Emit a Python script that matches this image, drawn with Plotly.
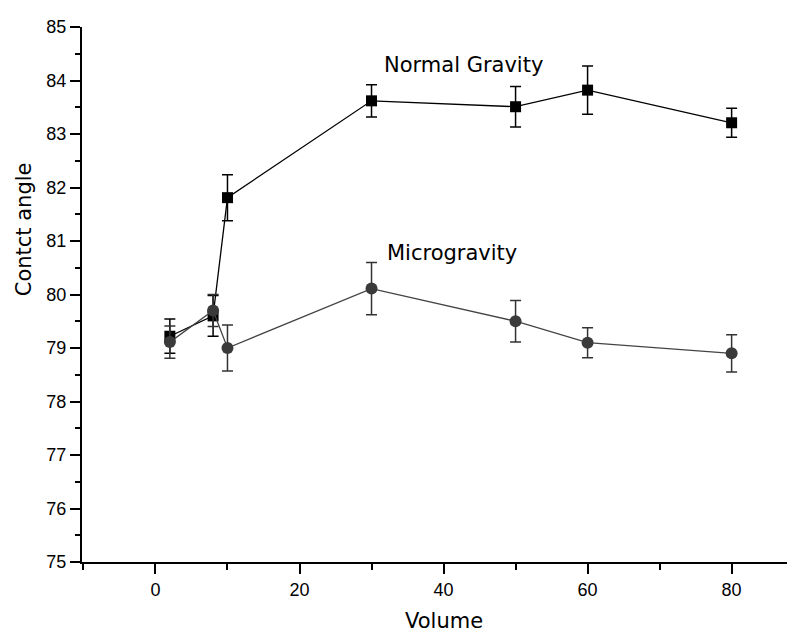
import plotly.graph_objects as go

volume = [2, 8, 10, 30, 50, 60, 80]
normal_angle = [79.22, 79.60, 81.81, 83.62, 83.51, 83.82, 83.21]
normal_err = [0.32, 0.38, 0.43, 0.30, 0.38, 0.45, 0.27]
micro_angle = [79.11, 79.70, 79.00, 80.11, 79.50, 79.10, 78.90]
micro_err = [0.30, 0.30, 0.43, 0.49, 0.39, 0.28, 0.35]

TITLE_FONT = "DejaVu Sans"
TICK_FONT = "Liberation Sans"

fig = go.Figure()
fig.add_trace(go.Scatter(
    x=volume, y=normal_angle, mode="lines+markers", name="Normal Gravity",
    line=dict(color="black", width=1.3),
    marker=dict(symbol="square", size=11, color="black"),
    error_y=dict(type="data", array=normal_err, visible=True,
                 color="black", thickness=1.5, width=5.5),
))
fig.add_trace(go.Scatter(
    x=volume, y=micro_angle, mode="lines+markers", name="Microgravity",
    line=dict(color="#444444", width=1.3),
    marker=dict(symbol="circle", size=12, color="#3a3a3a"),
    error_y=dict(type="data", array=micro_err, visible=True,
                 color="#333333", thickness=1.5, width=5.5),
))

fig.add_annotation(x=31.4, y=84.29, xref="x", yref="y", text="Normal Gravity",
                   showarrow=False, xanchor="left", yanchor="middle",
                   font=dict(family=TITLE_FONT, size=21, color="black"))
fig.add_annotation(x=31.9, y=80.77, xref="x", yref="y", text="Microgravity",
                   showarrow=False, xanchor="left", yanchor="middle",
                   font=dict(family=TITLE_FONT, size=21, color="black"))
fig.add_annotation(x=40, y=-0.110, xref="x", yref="paper", text="Volume",
                   showarrow=False, xanchor="center", yanchor="middle",
                   font=dict(family=TITLE_FONT, size=21, color="black"))
fig.add_annotation(x=-0.0813, y=81.22, xref="paper", yref="y", text="Contct angle",
                   showarrow=False, xanchor="center", yanchor="middle", textangle=-90,
                   font=dict(family=TITLE_FONT, size=21, color="black"))

fig.update_layout(
    width=795, height=625,
    margin=dict(l=74, r=8, t=19, b=71),
    paper_bgcolor="white", plot_bgcolor="white",
    showlegend=False,
    font=dict(family=TICK_FONT, size=18, color="black"),
)
fig.update_xaxes(
    range=[-10.2, 88.8], tick0=0, dtick=20,
    showline=True, linecolor="black", linewidth=2,
    ticks="outside", ticklen=10, tickwidth=2, tickcolor="black",
    showgrid=False, zeroline=False,
    minor=dict(dtick=10, ticks="outside", ticklen=6, tickwidth=2, tickcolor="black", showgrid=False),
    tickfont=dict(family=TICK_FONT, size=18, color="black"),
)
fig.update_yaxes(
    range=[75, 85], tick0=75, dtick=1,
    showline=True, linecolor="black", linewidth=2,
    ticks="outside", ticklen=10, tickwidth=2, tickcolor="black",
    showgrid=False, zeroline=False,
    minor=dict(dtick=0.5, ticks="outside", ticklen=5, tickwidth=2, tickcolor="black", showgrid=False),
    tickfont=dict(family=TICK_FONT, size=18, color="black"),
)

fig.write_html("out.html")
